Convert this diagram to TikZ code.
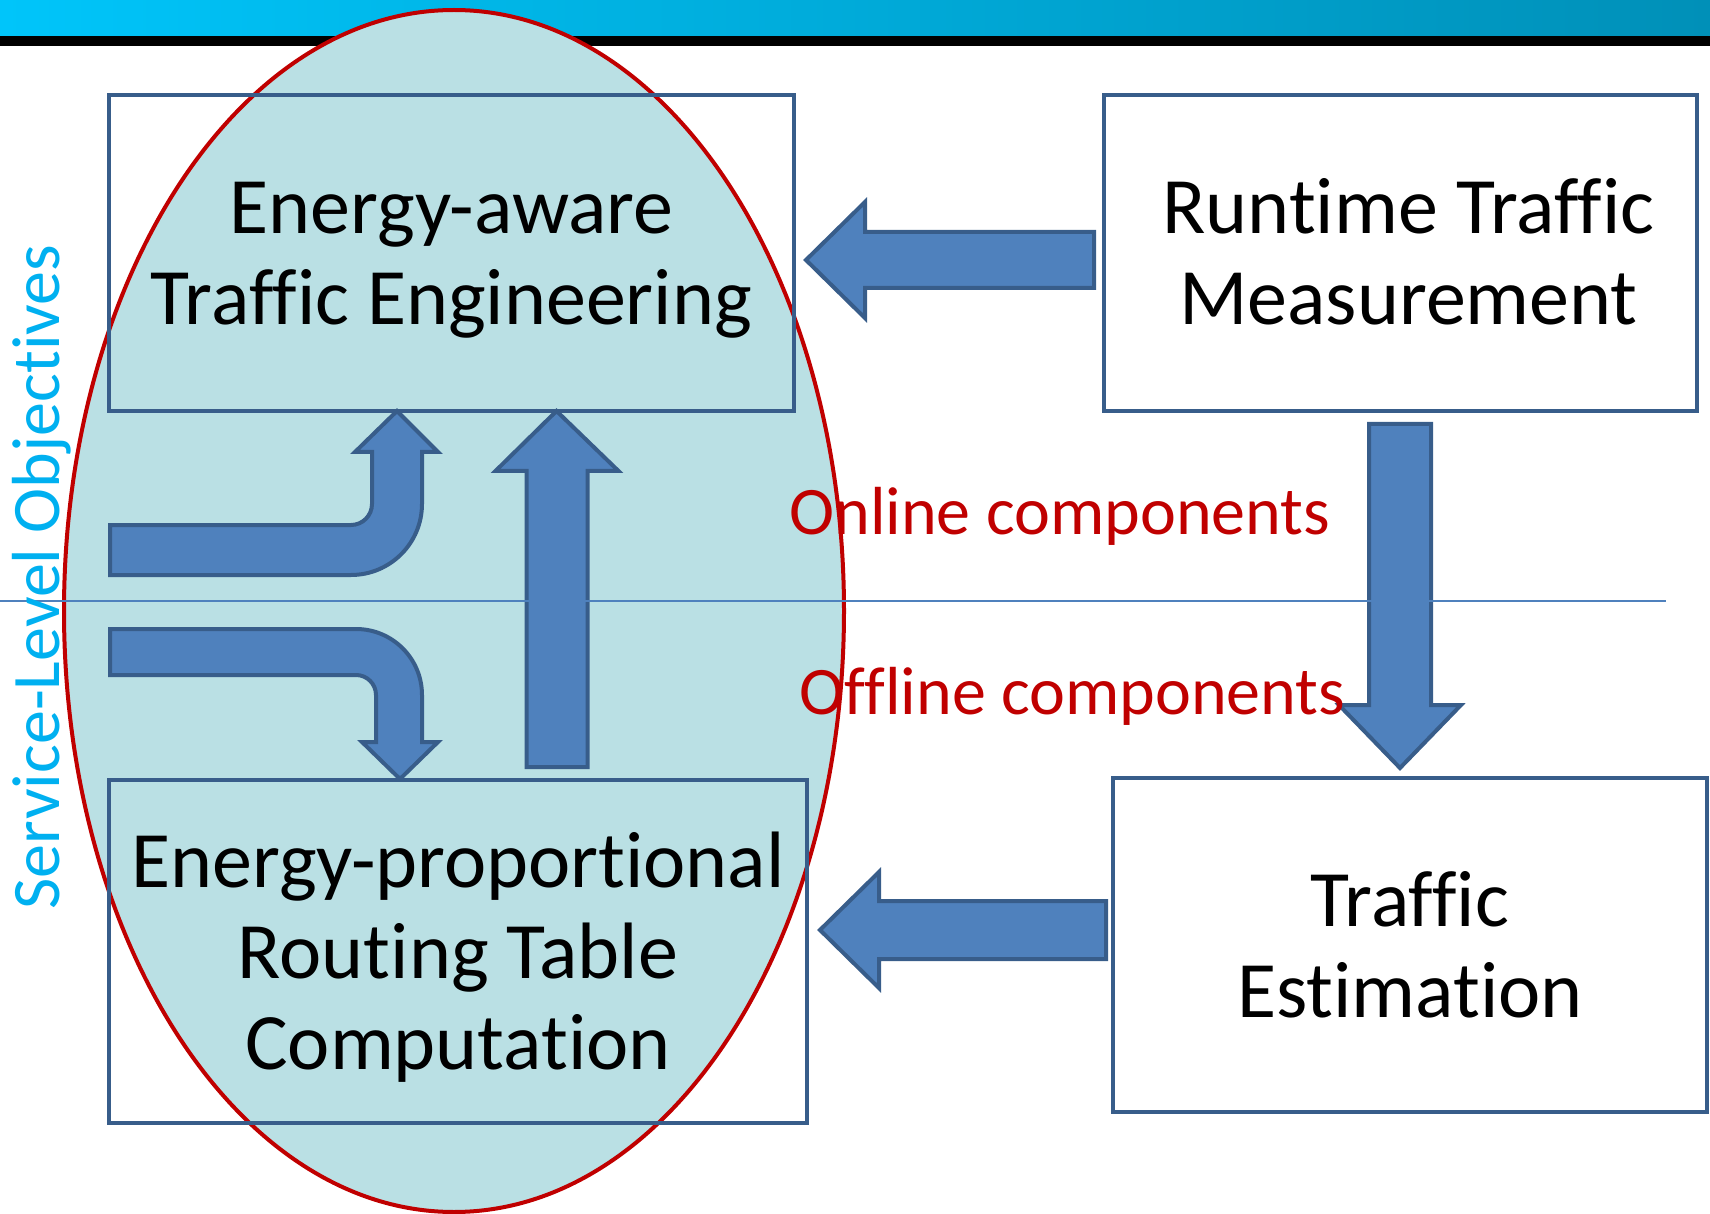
\documentclass[tikz,border=0pt]{standalone}
\usepackage{fontspec}
\setmainfont{Carlito}[Ligatures=NoCommon]
\usetikzlibrary{calc}
\definecolor{barleft}{RGB}{0,197,250}
\definecolor{barright}{RGB}{0,144,184}
\definecolor{ovalfill}{RGB}{186,224,228}
\definecolor{ovalline}{RGB}{192,0,0}
\definecolor{boxline}{RGB}{56,93,138}
\definecolor{arrowfill}{RGB}{79,129,189}
\definecolor{slotext}{RGB}{0,176,240}
\newcommand{\linetop}{\rule{0pt}{36pt}}
\newcommand{\linebot}{\rule[-9.5pt]{0pt}{9.5pt}}

\begin{document}
\begin{tikzpicture}[x=0.5pt,y=-0.5pt,
  box/.style={draw=boxline,line width=2pt,align=center,inner sep=0pt,outer sep=0pt,font=\fontsize{40}{45.5}\selectfont},
  blockarrow/.style={fill=arrowfill,draw=boxline,line width=2pt,line join=miter},
  phase/.style={text=ovalline,inner sep=0pt,anchor=base west,font=\fontsize{34}{40}\selectfont}]
  \useasboundingbox (0,0) rectangle (1710,1214);
  \shade[left color=barleft,right color=barright] (0,0) rectangle (1710,36);
  \fill[black] (0,36) rectangle (1710,46);
  \draw[ovalline,fill=ovalfill,line width=2pt] (454,611) ellipse [x radius=390,y radius=601];

  \node[box,minimum width=342.5pt,minimum height=158pt] (eate) at (451.5,253) {\linetop Energy-aware\\Traffic Engineering\linebot};
  \node[box,minimum width=296.5pt,minimum height=158pt] (rtm) at (1400.5,253) {\linetop\hspace*{8pt}Runtime Traffic\\\hspace*{8pt}Measurement\linebot};
  \node[box,minimum width=349pt,minimum height=171.5pt] (eprt) at (458,951.5) {\linetop Energy-proportional\\Routing Table\\Computation\linebot};
  \node[box,minimum width=297pt,minimum height=167pt] (estim) at (1410,945) {\linetop Traffic\\Estimation\linebot};

  \draw[blockarrow] ($(eate.east)+(12,7)$) -- ++(59,-58) -- ++(0,30) -- ++(229,0) -- ++(0,56) -- ++(-229,0) -- ++(0,30) -- cycle;
  \draw[blockarrow] ($(eprt.east)+(13,-21.5)$) -- ++(59,-58) -- ++(0,29) -- ++(227,0) -- ++(0,58) -- ++(-227,0) -- ++(0,29) -- cycle;
  \draw[blockarrow] ($(estim.north)+(-10,-10)$) -- ++(-61,-63) -- ++(30,0) -- ++(0,-281) -- ++(62,0) -- ++(0,281) -- ++(30,0) -- cycle;
  \draw[blockarrow] ($(eate.south)+(105,0)$) -- ++(62,60) -- ++(-31,0) -- ++(0,296) -- ++(-61,0) -- ++(0,-296) -- ++(-31,0) -- cycle;
  \draw[blockarrow] (397,411) -- (438,452) -- (422,452) -- (422,504) arc[start angle=0,end angle=90,radius=71] -- (110,575) -- (110,525) -- (351,525) arc[start angle=90,end angle=0,radius=21] -- (372,452) -- (355,452) -- cycle;
  \draw[blockarrow] (110,629) -- (356,629) arc[start angle=-90,end angle=0,radius=66] -- (422,742) -- (438,742) -- (400,779) -- (362,742) -- (376,742) -- (376,695) arc[start angle=0,end angle=-90,radius=20] -- (110,675) -- cycle;

  \draw[arrowfill,line width=1pt] (0,601) -- (1666,601);

  \node[phase] (online) at (789,534) {Online components};
  \node[phase] (offline) at (799,714) {Offline components};
  \node[text=slotext,rotate=90,anchor=base,inner sep=0pt,font=\fontsize{34}{40}\selectfont] (slo) at (60,577) {Service-Level Objectives};
\end{tikzpicture}
\end{document}
